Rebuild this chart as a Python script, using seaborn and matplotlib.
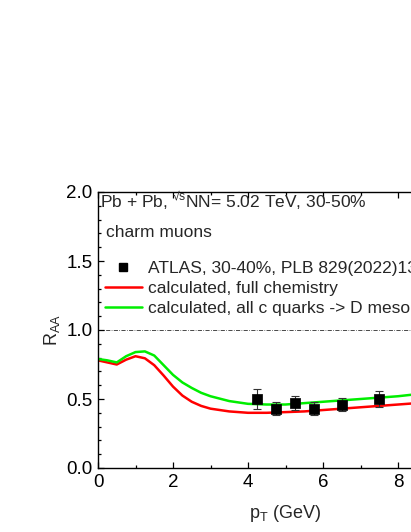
import numpy as np
import pandas as pd
import seaborn as sns
import matplotlib.pyplot as plt
from matplotlib.lines import Line2D
from matplotlib.ticker import MultipleLocator

# ATLAS charm muons, 30-40%
pt_data = [4.25, 4.75, 5.25, 5.75, 6.5, 7.5]
raa_data = [0.50, 0.43, 0.47, 0.43, 0.46, 0.50]
raa_err = [0.07, 0.045, 0.05, 0.045, 0.05, 0.055]

# model curves
pt_calc = [0.0, 0.25, 0.5, 0.75, 1.0, 1.25, 1.5, 1.75, 2.0, 2.25, 2.5, 2.75, 3.0,
           3.5, 4.0, 4.5, 5.0, 5.5, 6.0, 6.5, 7.0, 7.5, 8.0, 8.5, 9.0, 9.5, 10.0]
raa_full = [0.78, 0.765, 0.75, 0.785, 0.81, 0.795, 0.745, 0.67, 0.59, 0.525, 0.48, 0.45, 0.43,
            0.41, 0.40, 0.40, 0.405, 0.41, 0.42, 0.43, 0.44, 0.45, 0.46, 0.47, 0.48, 0.49, 0.50]
raa_allD = [0.79, 0.78, 0.765, 0.81, 0.84, 0.845, 0.815, 0.745, 0.675, 0.62, 0.58, 0.545, 0.52,
            0.485, 0.465, 0.46, 0.46, 0.47, 0.48, 0.49, 0.50, 0.51, 0.52, 0.535, 0.545, 0.555, 0.565]

sns.set_style("ticks")
plt.rcParams['font.family'] = ['Liberation Sans', 'DejaVu Sans']
plt.rcParams['mathtext.fontset'] = 'custom'
plt.rcParams['mathtext.rm'] = 'Liberation Sans'
plt.rcParams['mathtext.it'] = 'Liberation Sans:italic'
plt.rcParams['mathtext.default'] = 'regular'

fig = plt.figure(figsize=(4.11, 5.32), dpi=100)
ax = fig.add_axes([98 / 411, 64 / 532, 375 / 411, 276 / 532])

curves = pd.DataFrame({'pt': pt_calc, 'full': raa_full, 'allD': raa_allD})
ax.axhline(1.0, color='black', lw=0.5, ls=(0, (6, 2, 1, 2)))
sns.lineplot(data=curves, x='pt', y='full', color='#ff0000', lw=1.8, ax=ax)
sns.lineplot(data=curves, x='pt', y='allD', color='#00ee00', lw=1.8, ax=ax)

ax.errorbar(pt_data, raa_data, yerr=raa_err, fmt='none', ecolor='#333333',
            elinewidth=0.8, capsize=3, capthick=0.8, zorder=4)
sns.scatterplot(x=pt_data, y=raa_data, marker='s', s=42, color='black',
                edgecolor='black', ax=ax, zorder=5)

ax.set_xlim(0, 10)
ax.set_ylim(0, 2.0)
ax.xaxis.set_major_locator(MultipleLocator(2))
ax.xaxis.set_minor_locator(MultipleLocator(1))
ax.yaxis.set_major_locator(MultipleLocator(0.5))
ax.yaxis.set_minor_locator(MultipleLocator(0.1))
ax.tick_params(which='both', direction='in', top=True, right=True, labelsize=13.5,
               colors='black', width=0.9)
ax.tick_params(which='major', length=4, pad=4)
ax.tick_params(which='minor', length=2.5)
for s in ax.spines.values():
    s.set_color('black')
    s.set_linewidth(1.0)

ax.set_xlabel(r'p$_{\rm T}$ (GeV)', fontsize=13, labelpad=9)
ax.set_ylabel(r'R$_{\rm AA}$', fontsize=13, labelpad=3)

ax.text(0.05, 1.935, 'Pb + Pb, $^{√s}$NN= 5.02 TeV, 30-50%', fontsize=12.5,
        va='center', ha='left')
ax.text(0.21, 1.705, 'charm muons', fontsize=12.5, va='center', ha='left')

handles = [
    Line2D([], [], marker='s', ls='none', color='black', markersize=6),
    Line2D([], [], color='#ff0000', lw=1.8),
    Line2D([], [], color='#00ee00', lw=1.8),
]
labels = ['ATLAS, 30-40%, PLB 829(2022)137077',
          'calculated, full chemistry',
          'calculated, all c quarks -> D mesons']
ax.legend(handles, labels, loc='upper left', bbox_to_anchor=(0.019, 0.752),
          frameon=False, fontsize=12.5, handlelength=2.1, handletextpad=0.35,
          labelspacing=0.3, borderaxespad=0, borderpad=0)

fig.savefig('out.png', dpi=100)
